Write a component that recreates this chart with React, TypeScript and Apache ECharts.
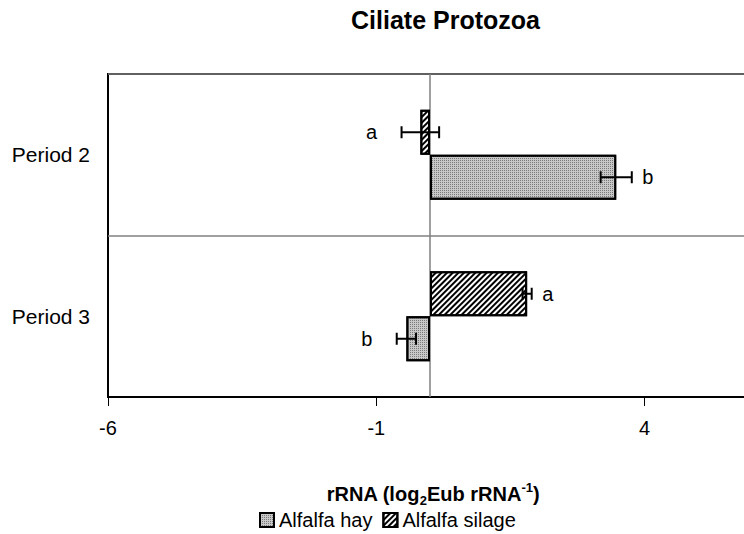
import React, { useEffect, useRef } from "react";
import * as echarts from "echarts";

const categories = ["Period 2", "Period 3"];
const hayValues = [3.47, -0.44];
const silageValues = [-0.18, 1.81];
const hayErrors = [0.29, 0.18];
const silageErrors = [0.35, 0.085];
const hayLetters = ["b", "b"];
const silageLetters = ["a", "a"];
const xMin = -6;
const xMax = 6;
const xInterval = 5;

const FONT = "'Liberation Sans', Arial, Helvetica, sans-serif";

const hayStyle = {
  color: "#c8c8c8",
  borderColor: "#000",
  borderWidth: 2,
  decal: {
    symbol: "rect",
    symbolSize: 1,
    dashArrayX: [1, 1],
    dashArrayY: [1, 1],
    color: "#7a7a7a",
  },
};
const silageStyle = {
  color: "#ffffff",
  borderColor: "#000",
  borderWidth: 2,
  decal: {
    symbol: "rect",
    symbolSize: 1,
    dashArrayX: [1, 0],
    dashArrayY: [2, 2],
    rotation: -Math.PI / 4,
    color: "#000000",
  },
};

function errorSeries(values: number[], errors: number[], letters: string[], offset: number) {
  return {
    type: "custom",
    coordinateSystem: "cartesian2d",
    z: 10,
    silent: true,
    clip: false,
    encode: { x: 0, y: 1 },
    data: values.map((v, i) => [v, i, errors[i]]),
    renderItem: (params: any, api: any) => {
      const v = api.value(0);
      const c = api.value(1);
      const e = api.value(2);
      const p = api.coord([v, c]);
      const y = p[1] + offset;
      const x0 = api.coord([v - e, c])[0];
      const x1 = api.coord([v + e, c])[0];
      const ls = { stroke: "#000", lineWidth: 2 };
      const letter = letters[params.dataIndex];
      return {
        type: "group",
        children: [
          { type: "line", shape: { x1: x0, y1: y, x2: x1, y2: y }, style: ls },
          { type: "line", shape: { x1: x0, y1: y - 6, x2: x0, y2: y + 6 }, style: ls },
          { type: "line", shape: { x1: x1, y1: y - 6, x2: x1, y2: y + 6 }, style: ls },
          {
            type: "text",
            x: v >= 0 ? x1 + 16 : x0 - 30,
            y: y,
            style: {
              text: letter,
              fill: "#000",
              font: `20px ${FONT}`,
              align: "center",
              verticalAlign: "middle",
            },
          },
        ],
      };
    },
  };
}

export default function App() {
  const ref = useRef<HTMLDivElement>(null);
  useEffect(() => {
    if (!ref.current) return;
    const chart = echarts.init(ref.current, null, { renderer: "svg" });
    chart.setOption({
      animation: false,
      backgroundColor: "#ffffff",
      textStyle: { fontFamily: FONT },
      grid: {
        left: 108,
        top: 74,
        bottom: 137,
        right: 8,
        show: true,
        borderColor: "#000",
        borderWidth: 2,
        backgroundColor: "transparent",
      },
      xAxis: {
        type: "value",
        min: xMin,
        max: xMax,
        interval: xInterval,
        axisLine: { show: true, onZero: false, lineStyle: { color: "#000", width: 2 } },
        axisTick: { show: true, length: 9, lineStyle: { color: "#000", width: 1 } },
        axisLabel: {
          color: "#000",
          fontSize: 20,
          fontFamily: FONT,
          margin: 21,
          showMaxLabel: false,
        },
        splitLine: { show: false },
      },
      yAxis: {
        type: "category",
        data: categories,
        inverse: true,
        axisLine: { show: false, onZero: false },
        axisTick: { show: false },
        axisLabel: { color: "#000", fontSize: 21, fontFamily: FONT, margin: 18 },
        splitLine: { show: true, lineStyle: { color: "#808080", width: 1.5 } },
      },
      legend: {
        data: ["Alfalfa hay", "Alfalfa silage"],
        left: 254,
        top: 505,
        itemWidth: 14,
        itemHeight: 14,
        itemGap: 10,
        icon: "rect",
        textStyle: { color: "#000", fontSize: 20, fontFamily: FONT },
        selectedMode: false,
      },
      graphic: [
        {
          type: "text",
          x: 445.5,
          y: 19.5,
          style: {
            text: "Ciliate Protozoa",
            fill: "#000",
            font: `bold 25px ${FONT}`,
            align: "center",
            verticalAlign: "middle",
          },
        },
        {
          type: "text",
          x: 433,
          y: 494,
          style: {
            text: "{b|rRNA (log}{s|2}{b|Eub rRNA}{p|-1}{b|)}",
            align: "center",
            verticalAlign: "middle",
            rich: {
              b: { fontSize: 20, fontWeight: "bold", fontFamily: FONT, fill: "#000", lineHeight: 26, verticalAlign: "middle" },
              s: { fontSize: 13, fontWeight: "bold", fontFamily: FONT, fill: "#000", lineHeight: 26, verticalAlign: "bottom" },
              p: { fontSize: 13, fontWeight: "bold", fontFamily: FONT, fill: "#000", lineHeight: 26, verticalAlign: "top" },
            },
          },
        },
      ],
      series: [
        {
          name: "Alfalfa silage",
          type: "bar",
          data: silageValues,
          barWidth: 45,
          barGap: "0%",
          itemStyle: silageStyle,
          z: 2,
        },
        {
          name: "Alfalfa hay",
          type: "bar",
          data: hayValues,
          barWidth: 45,
          barGap: "0%",
          itemStyle: hayStyle,
          z: 2,
          markLine: {
            silent: true,
            symbol: "none",
            z: 1,
            label: { show: false },
            lineStyle: { color: "#808080", width: 1.5, type: "solid" },
            data: [{ xAxis: 0 }],
          },
        },
        errorSeries(silageValues, silageErrors, silageLetters, -22.5),
        errorSeries(hayValues, hayErrors, hayLetters, 22.5),
      ],
    });
    return () => chart.dispose();
  }, []);
  return (
    <div
      ref={ref}
      style={{ position: "fixed", left: 0, top: 0, width: 760, height: 534 }}
    />
  );
}
